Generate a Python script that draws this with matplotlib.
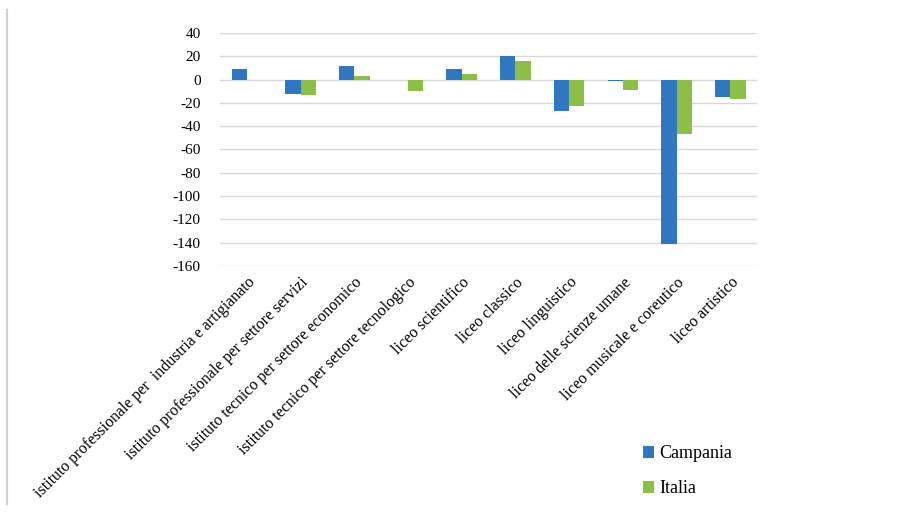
import numpy as np
import matplotlib.pyplot as plt
from matplotlib.lines import Line2D

# categories and values
categorie = [
    "istituto professionale per  industria e artigianato",
    "istituto professionale per settore servizi",
    "istituto tecnico per settore economico",
    "istituto tecnico per settore tecnologico",
    "liceo scientifico",
    "liceo classico",
    "liceo linguistico",
    "liceo delle scienze umane",
    "liceo musicale e coreutico",
    "liceo artistico",
]
campania = [9, -12, 12, 0, 9, 20, -27, -1, -141, -15]
italia = [0, -13, 3, -10, 5, 16, -23, -9, -47, -17]
yticks = [40, 20, 0, -20, -40, -60, -80, -100, -120, -140, -160]

plt.rcParams['font.family'] = ['Liberation Serif', 'DejaVu Serif']

fig = plt.figure(figsize=(9.09, 5.14), dpi=100)
ax = fig.add_axes([0.242, 0.4825, 0.591, 0.4535])

x = np.arange(len(categorie))
w = 0.285
ax.bar(x - w / 2, campania, w, color='#2F77C0', label='Campania', zorder=3)
ax.bar(x + w / 2, italia, w, color='#8CBF45', label='Italia', zorder=3)

ax.set_xlim(-0.5, len(categorie) - 0.5)
ax.set_ylim(-160, 40)
ax.set_yticks(yticks)
ax.set_yticklabels([str(v) for v in yticks], fontsize=11)
ax.grid(axis='y', color='#D9D9D9', linewidth=1, zorder=0)
ax.tick_params(axis='both', length=0)
ax.tick_params(axis='y', pad=14)
for s in ax.spines.values():
    s.set_visible(False)

ax.set_xticks(x)
ax.set_xticklabels(categorie, rotation=45, ha='right', rotation_mode='anchor',
                   fontsize=11.5)
ax.tick_params(axis='x', pad=6)

handles, labels = ax.get_legend_handles_labels()
fig.legend(handles, labels, loc='upper left', bbox_to_anchor=(0.69, 0.165),
           frameon=False, fontsize=13, handlelength=0.6, handleheight=0.6,
           handletextpad=0.3, labelspacing=1.0)

# faint frame line on the left
fig.add_artist(Line2D([0.008, 0.008], [0.02, 0.98], color='#D0D0D0', lw=1.5))

fig.savefig('out.png', dpi=100)
